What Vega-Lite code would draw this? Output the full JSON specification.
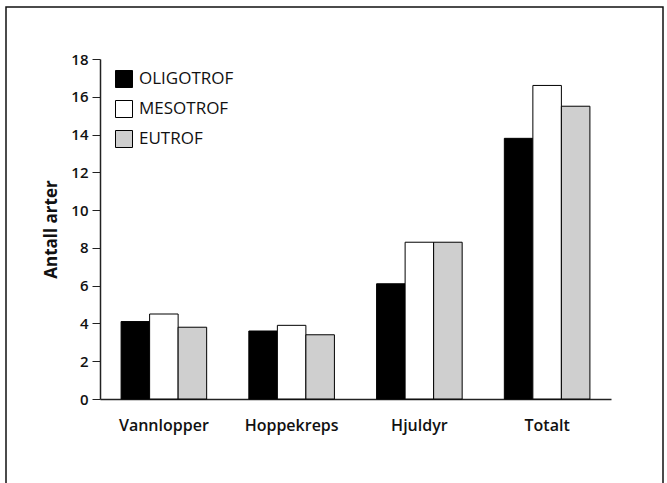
{
  "$schema": "https://vega.github.io/schema/vega-lite/v6.json",
  "width": 657,
  "height": 480,
  "autosize": {"type": "none"},
  "padding": {"left": 6, "top": 7, "right": 4, "bottom": 0},
  "background": "white",
  "config": {
    "view": {"stroke": "#111111", "strokeWidth": 1.5},
    "font": "Open Sans"
  },
  "data": {
    "values": [
      {"gruppe": "Vannlopper", "type": "OLIGOTROF", "antall": 4.1},
      {"gruppe": "Vannlopper", "type": "MESOTROF", "antall": 4.5},
      {"gruppe": "Vannlopper", "type": "EUTROF", "antall": 3.8},
      {"gruppe": "Hoppekreps", "type": "OLIGOTROF", "antall": 3.6},
      {"gruppe": "Hoppekreps", "type": "MESOTROF", "antall": 3.9},
      {"gruppe": "Hoppekreps", "type": "EUTROF", "antall": 3.4},
      {"gruppe": "Hjuldyr", "type": "OLIGOTROF", "antall": 6.1},
      {"gruppe": "Hjuldyr", "type": "MESOTROF", "antall": 8.3},
      {"gruppe": "Hjuldyr", "type": "EUTROF", "antall": 8.3},
      {"gruppe": "Totalt", "type": "OLIGOTROF", "antall": 13.8},
      {"gruppe": "Totalt", "type": "MESOTROF", "antall": 16.6},
      {"gruppe": "Totalt", "type": "EUTROF", "antall": 15.5}
    ]
  },
  "mark": {"type": "bar", "stroke": "black", "strokeWidth": 1},
  "encoding": {
    "x": {
      "field": "gruppe",
      "type": "nominal",
      "sort": ["Vannlopper", "Hoppekreps", "Hjuldyr", "Totalt"],
      "scale": {"range": [94, 605], "paddingInner": 0.33, "paddingOuter": 0.165},
      "axis": {
        "title": null,
        "orient": "bottom",
        "offset": -88,
        "labelAngle": 0,
        "ticks": false,
        "labelPadding": 18,
        "labelFontSize": 16,
        "labelFontWeight": 600,
        "labelColor": "#111111",
        "domainColor": "#222222",
        "domainWidth": 1.5
      }
    },
    "xOffset": {
      "field": "type",
      "sort": ["OLIGOTROF", "MESOTROF", "EUTROF"],
      "scale": {"paddingInner": 0, "paddingOuter": 0}
    },
    "y": {
      "field": "antall",
      "type": "quantitative",
      "scale": {"domain": [0, 18], "range": [392, 52], "nice": false},
      "axis": {
        "title": "Antall arter",
        "values": [0, 2, 4, 6, 8, 10, 12, 14, 16, 18],
        "offset": -94,
        "grid": false,
        "tickSize": 8,
        "tickColor": "#222222",
        "domainColor": "#222222",
        "domainWidth": 1.5,
        "labelFontSize": 15,
        "labelFontWeight": 600,
        "labelColor": "#111111",
        "labelPadding": 4,
        "titleFontSize": 17,
        "titleFontWeight": "bold",
        "titleColor": "#111111",
        "titlePadding": 10
      }
    },
    "fill": {
      "field": "type",
      "type": "nominal",
      "sort": ["OLIGOTROF", "MESOTROF", "EUTROF"],
      "scale": {"domain": ["OLIGOTROF", "MESOTROF", "EUTROF"], "range": ["#000000", "#ffffff", "#cfcfcf"]},
      "legend": {
        "title": null,
        "orient": "none",
        "legendX": 109,
        "legendY": 63,
        "padding": 0,
        "symbolType": "square",
        "symbolSize": 289,
        "symbolStrokeColor": "black",
        "symbolStrokeWidth": 1,
        "labelFontSize": 17,
        "labelFontWeight": 500,
        "labelColor": "#111111",
        "labelOffset": 6,
        "rowPadding": 8
      }
    }
  }
}
